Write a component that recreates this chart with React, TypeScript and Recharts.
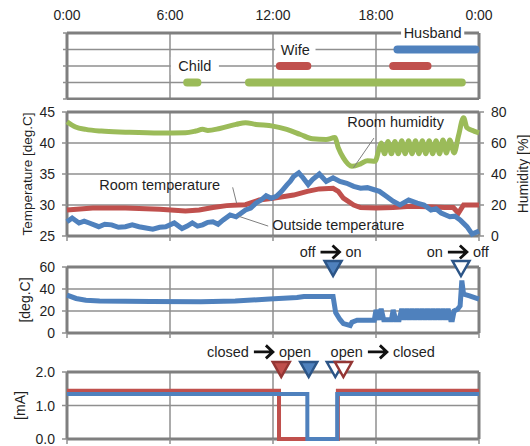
import React from 'react'
import {
  LineChart, Line, XAxis, YAxis, CartesianGrid, ReferenceDot, ReferenceLine, Label,
} from 'recharts'

const FONT = '"Liberation Sans", Arial, sans-serif'
const INK = '#1f1f1f'
const GRID = '#8f8f8f'
const FRAME = '#7f7f7f'
const BLUE = '#4f81bd'
const BLUE_DARK = '#2c5587'
const RED = '#c0504d'
const RED_DARK = '#943634'
const GREEN = '#9bbb59'

const HOURS = [0, 6, 12, 18, 24]
const HOUR_LABELS = ['0:00', '6:00', '12:00', '18:00', '0:00']

// who is at home: [from, to] in hours, one row per person
const childStays = [[7.0, 7.6], [10.6, 23.0]]
const wifeStays = [[12.4, 14.0], [19.0, 21.0]]
const husbandStays = [[19.25, 23.8]]

// [hour, %]
const roomHumidity = [
  [0, 73.7], [0.5, 70.3], [1.1, 68.8], [2.0, 67.7], [3.4, 67.0], [5.4, 66.4], [6.9, 66.6],
  [7.5, 67.7], [7.9, 68.8], [8.2, 68.1], [8.9, 69.4], [9.85, 72], [10.4, 73.1], [11.0, 72],
  [12.0, 70.9], [12.8, 68.8], [13.6, 65.5], [14.3, 62.7], [15.1, 62.3], [15.6, 63.5],
  [15.8, 57], [16.1, 50.4], [16.6, 45], [17.1, 46.5], [17.5, 48.6], [17.95, 48.2],
  [18.15, 55], [18.3, 60], [18.5, 53], [18.7, 61], [18.9, 53], [19.1, 61], [19.3, 53],
  [19.5, 61.5], [19.7, 53], [19.9, 61.5], [20.1, 53], [20.3, 61.5], [20.5, 53], [20.7, 61.5],
  [20.9, 53], [21.1, 61.5], [21.3, 53], [21.5, 61.5], [21.7, 53], [21.9, 62], [22.1, 53.5],
  [22.3, 62], [22.55, 53.6], [22.8, 64.4], [23.1, 76.3], [23.3, 69.8], [23.7, 67.7], [24, 66.6],
]

// [hour, deg.C]
const roomTemp = [
  [0, 29.2], [1.5, 29.5], [3.4, 29.5], [5.4, 29.3], [6.9, 29.05], [7.7, 29.2], [8.5, 29.6],
  [9.3, 29.9], [10.0, 30.0], [10.4, 30.05], [11.2, 30.8], [12.0, 31.1], [13.2, 31.6],
  [14.0, 32.2], [14.7, 32.6], [15.5, 32.7], [15.8, 32.2], [16.1, 31.1], [16.7, 30.0],
  [17.1, 29.6], [18.0, 29.5], [19.0, 29.6], [20.0, 29.8], [21.0, 29.7], [22.0, 29.6],
  [22.5, 29.6], [22.8, 28.7], [23.1, 30.0], [24, 30.0],
]

const outsideTemp = [
  [0, 27.3], [0.3, 27.9], [0.7, 27.1], [1.0, 27.4], [1.3, 27.1], [1.85, 26.5], [2.2, 26.9],
  [2.6, 26.8], [3.0, 26.4], [3.4, 26.5], [3.8, 26.8], [4.2, 26.5], [4.6, 26.3], [5.0, 26.1],
  [5.4, 26.4], [5.75, 26.5], [6.25, 27.1], [6.7, 26.2], [7.0, 26.6], [7.3, 27.1], [7.6, 26.6],
  [7.9, 26.8], [8.2, 27.2], [8.5, 27.3], [8.8, 26.9], [9.1, 27.6], [9.5, 28.4], [9.85, 28.1],
  [10.1, 28.6], [10.4, 29.2], [10.7, 29.5], [11.0, 30.3], [11.3, 30.8], [11.6, 31.5],
  [11.9, 31.1], [12.2, 31.4], [12.5, 32.2], [12.8, 33.2], [13.0, 33.8], [13.2, 34.6],
  [13.5, 35.2], [13.75, 34.4], [14.05, 33.3], [14.3, 34.1], [14.7, 35.0], [15.1, 33.8],
  [15.5, 34.4], [15.9, 33.8], [16.3, 33.5], [16.7, 33.0], [17.1, 32.7], [17.5, 32.8],
  [17.85, 32.5], [18.2, 32.2], [18.6, 31.4], [19.0, 30.6], [19.4, 30.0], [19.9, 30.8],
  [20.4, 30.3], [20.8, 30.0], [21.2, 29.2], [21.5, 29.4], [21.8, 28.7], [22.3, 28.1],
  [22.6, 28.2], [22.9, 27.6], [23.3, 26.5], [23.6, 25.3], [24, 25.8],
]

// air conditioner outlet, [hour, deg.C]
const outletTemp = [
  [0, 34.5], [0.53, 31.4], [1.1, 29.8], [1.9, 29.2], [4.9, 28.6], [7.8, 28.3], [9.8, 29.2],
  [11.8, 30.8], [13.4, 32.3], [13.8, 33.2], [15.5, 33.2], [15.65, 18.5], [15.9, 12.3],
  [16.1, 8.6], [16.5, 6.8], [16.6, 9.8], [16.9, 11.7], [17.9, 11.7], [18.0, 21], [18.15, 12],
  [18.3, 22], [18.45, 12], [18.9, 12], [19.0, 21], [19.15, 12], [19.35, 12], [19.5, 22],
  [19.65, 12], [19.8, 22], [19.95, 12], [20.1, 22], [20.25, 12], [20.4, 22], [20.55, 12],
  [20.7, 22], [20.85, 12], [21.0, 22], [21.15, 12], [21.3, 22], [21.45, 12], [21.6, 22],
  [21.75, 12], [21.9, 22], [22.05, 12], [22.2, 22], [22.35, 12], [22.45, 12], [22.55, 20],
  [22.75, 21.5], [22.9, 24.6], [23.0, 47.7], [23.1, 35.4], [23.45, 33.8], [24, 30.8],
]

// door sensors, [hour, mA]
const doorRed = [[0, 1.44], [12.35, 1.44], [12.35, 0], [15.78, 0], [15.78, 1.44], [24, 1.44]]
const doorBlue = [[0, 1.34], [14.0, 1.34], [14.0, 0], [15.74, 0], [15.74, 1.34], [24, 1.34]]

const rows = (pts: number[][]) => pts.map(([h, v]) => ({ h, v }))

const tickFont = { fontSize: 14, fill: INK, fontFamily: FONT }
const noTick = () => <g />
const edgeRows = ({ offset }: any) => [offset.top, offset.top + offset.height]
const edgeCols = ({ offset }: any) => [offset.left, offset.left + offset.width]

// left-axis value label
const leftTick = (fmt: (v: number) => string) => (p: any) => (
  <text x={p.x} y={p.y} textAnchor="end" dominantBaseline="central" fontSize={14}
    fontFamily={FONT} fill={INK}>{fmt(p.payload.value)}</text>
)

const vTitle = (text: string, dx: number, size = 14) => (props: any) => {
  const vb = props.viewBox
  const cx = vb.x + dx
  const cy = vb.y + vb.height / 2
  return (
    <text x={cx} y={cy} transform={`rotate(-90 ${cx} ${cy})`} textAnchor="middle"
      dominantBaseline="central" fontSize={size} fontFamily={FONT} fill={INK}>{text}</text>
  )
}

const note = (text: string, boxed = false) => (p: any) => {
  const w = text.length * 7.6 + 10
  return (
    <g>
      {boxed && <rect x={p.cx - w / 2} y={p.cy - 9} width={w} height={18} fill="#fff" />}
      <text x={p.cx} y={p.cy} textAnchor="middle" dominantBaseline="central"
        fontSize={14.5} fontFamily={FONT} fill={INK}>{text}</text>
    </g>
  )
}

// "from → to", anchored on the arrow's centre
const arrowNote = (from: string, to: string) => (p: any) => {
  const { cx, cy } = p
  return (
    <g fontSize={14.5} fontFamily={FONT} fill={INK}>
      <text x={cx - 15} y={cy} textAnchor="end" dominantBaseline="central">{from}</text>
      <path d={`M${cx - 10},${cy} H${cx + 8} M${cx + 2},${cy - 6.5} L${cx + 9},${cy} L${cx + 2},${cy + 6.5}`}
        stroke="#111" strokeWidth={2.8} fill="none" />
      <text x={cx + 15} y={cy} textAnchor="start" dominantBaseline="central">{to}</text>
    </g>
  )
}

const tri = (fill: string, stroke: string, top: number, tip: number) => (p: any) => (
  <polygon
    points={`${p.cx - 8.5},${p.cy + top} ${p.cx + 8.5},${p.cy + top} ${p.cx},${p.cy + tip}`}
    fill={fill} stroke={stroke} strokeWidth={2.5} />
)

const bottomAxis = (
  <XAxis dataKey="h" type="number" domain={[0, 24]} ticks={HOURS} interval={0} tick={noTick}
    tickSize={5} tickLine={{ stroke: GRID, strokeWidth: 1.5 }} axisLine={false} height={7} />
)

function Occupancy() {
  const people = [
    { stays: childStays, row: 1, color: GREEN },
    { stays: wifeStays, row: 2, color: RED },
    { stays: husbandStays, row: 3, color: BLUE },
  ]
  return (
    <LineChart width={530} height={100} margin={{ top: 0, right: 51, bottom: 1, left: 0 }}>
      <CartesianGrid stroke={GRID} strokeWidth={1.5} />
      <CartesianGrid stroke={FRAME} strokeWidth={3}
        horizontalCoordinatesGenerator={edgeRows} verticalCoordinatesGenerator={edgeCols} />
      <XAxis dataKey="h" type="number" orientation="top" domain={[0, 24]} ticks={HOURS}
        interval={0} tickFormatter={(_, i) => HOUR_LABELS[i]} tick={tickFont}
        tickLine={false} axisLine={false} tickSize={6} tickMargin={7} height={33} />
      <YAxis type="number" domain={[0, 4]} ticks={[0, 1, 2, 3, 4]} interval={0} tick={noTick}
        tickSize={4} tickLine={{ stroke: GRID, strokeWidth: 1.5 }} axisLine={false} width={67} />
      <ReferenceDot x={21.3} y={4} ifOverflow="visible" shape={note('Husband', true)} />
      <ReferenceDot x={13.3} y={3} ifOverflow="visible" shape={note('Wife', true)} />
      <ReferenceDot x={7.45} y={2} ifOverflow="visible" shape={note('Child', true)} />
      {people.flatMap(({ stays, row, color }) =>
        stays.map(([a, b], i) => (
          <Line key={`${row}-${i}`} data={[{ h: a, v: row }, { h: b, v: row }]} dataKey="v"
            stroke={color} strokeWidth={8} strokeLinecap="round" dot={false}
            activeDot={false} isAnimationActive={false} />
        )))}
    </LineChart>
  )
}

function Climate() {
  return (
    <LineChart width={530} height={150} margin={{ top: 12, right: 0, bottom: 7, left: 0 }}>
      <CartesianGrid yAxisId="t" stroke={GRID} strokeWidth={1.5} />
      <CartesianGrid yAxisId="t" stroke={FRAME} strokeWidth={3}
        horizontalCoordinatesGenerator={edgeRows} verticalCoordinatesGenerator={edgeCols} />
      {bottomAxis}
      <YAxis yAxisId="t" type="number" domain={[25, 45]} ticks={[25, 30, 35, 40, 45]}
        interval={0} tick={tickFont} tickSize={5} tickMargin={7}
        tickLine={{ stroke: GRID, strokeWidth: 1.5 }} axisLine={false} width={67}>
        <Label content={vTitle('Temperature [deg.C]', 27, 13.5)} />
      </YAxis>
      <YAxis yAxisId="h" orientation="right" type="number" domain={[0, 80]}
        ticks={[0, 20, 40, 60, 80]} interval={0} tick={tickFont} tickSize={5} tickMargin={7}
        tickLine={{ stroke: GRID, strokeWidth: 1.5 }} axisLine={false} width={51}>
        <Label content={vTitle('Humidity [%]', 44)} />
      </YAxis>
      <Line yAxisId="h" type="monotone" data={rows(roomHumidity)} dataKey="v" stroke={GREEN}
        strokeWidth={5} dot={false} activeDot={false} isAnimationActive={false} />
      <Line yAxisId="t" data={rows(roomTemp)} dataKey="v" stroke={RED} strokeWidth={5}
        dot={false} activeDot={false} isAnimationActive={false} />
      <Line yAxisId="t" data={rows(outsideTemp)} dataKey="v" stroke={BLUE} strokeWidth={5}
        dot={false} activeDot={false} isAnimationActive={false} />
      <ReferenceLine yAxisId="t" ifOverflow="visible" stroke="#7f7f7f" strokeWidth={1}
        segment={[{ x: 9.65, y: 32.85 }, { x: 9.88, y: 30.3 }]} />
      <ReferenceLine yAxisId="t" ifOverflow="visible" stroke="#7f7f7f" strokeWidth={1}
        segment={[{ x: 9.98, y: 28.2 }, { x: 11.72, y: 26.6 }]} />
      <ReferenceLine yAxisId="h" ifOverflow="visible" stroke="#7f7f7f" strokeWidth={1}
        segment={[{ x: 17.88, y: 63.2 }, { x: 16.68, y: 43.9 }]} />
      <ReferenceDot yAxisId="t" x={5.4} y={33.3} ifOverflow="visible" shape={note('Room temperature')} />
      <ReferenceDot yAxisId="t" x={15.8} y={26.8} ifOverflow="visible" shape={note('Outside temperature')} />
      <ReferenceDot yAxisId="h" x={19.14} y={73.5} ifOverflow="visible" shape={note('Room humidity')} />
    </LineChart>
  )
}

function Outlet() {
  return (
    <LineChart width={530} height={120} margin={{ top: 27, right: 51, bottom: 20, left: 0 }}>
      <CartesianGrid stroke={GRID} strokeWidth={1.5} />
      <CartesianGrid stroke={FRAME} strokeWidth={3}
        horizontalCoordinatesGenerator={edgeRows} verticalCoordinatesGenerator={edgeCols} />
      {bottomAxis}
      <YAxis type="number" domain={[0, 60]} ticks={[0, 20, 40, 60]} interval={0}
        tick={leftTick((v) => String(v))} tickSize={5} tickMargin={7}
        tickLine={{ stroke: GRID, strokeWidth: 1.5 }} axisLine={false} width={67}>
        <Label content={vTitle('[deg.C]', 25)} />
      </YAxis>
      <Line data={rows(outletTemp)} dataKey="v" stroke={BLUE} strokeWidth={5} dot={false}
        activeDot={false} isAnimationActive={false} />
      <ReferenceDot x={15.35} y={73.6} ifOverflow="visible" shape={arrowNote('off', 'on')} />
      <ReferenceDot x={22.77} y={73.6} ifOverflow="visible" shape={arrowNote('on', 'off')} />
      <ReferenceDot x={15.5} y={60} ifOverflow="visible" shape={tri(BLUE, BLUE_DARK, -6, 9)} />
      <ReferenceDot x={22.95} y={60} ifOverflow="visible" shape={tri('#fff', BLUE_DARK, -6, 9)} />
    </LineChart>
  )
}

function Doors() {
  return (
    <LineChart width={530} height={106} margin={{ top: 32, right: 51, bottom: 0, left: 0 }}>
      <CartesianGrid stroke={GRID} strokeWidth={1.5} />
      <CartesianGrid stroke={FRAME} strokeWidth={3}
        horizontalCoordinatesGenerator={edgeRows} verticalCoordinatesGenerator={edgeCols} />
      {bottomAxis}
      <YAxis type="number" domain={[0, 2]} ticks={[0, 1, 2]} interval={0}
        tick={leftTick((v) => v.toFixed(1))} tickSize={5} tickMargin={7}
        tickLine={{ stroke: GRID, strokeWidth: 1.5 }} axisLine={false} width={67}>
        <Label content={vTitle('[mA]', 20)} />
      </YAxis>
      <Line data={rows(doorRed)} dataKey="v" stroke={RED} strokeWidth={4} dot={false}
        activeDot={false} isAnimationActive={false} />
      <Line data={rows(doorBlue)} dataKey="v" stroke={BLUE} strokeWidth={4} dot={false}
        activeDot={false} isAnimationActive={false} />
      <ReferenceDot x={11.47} y={2.6} ifOverflow="visible" shape={arrowNote('closed', 'open')} />
      <ReferenceDot x={18.11} y={2.6} ifOverflow="visible" shape={arrowNote('open', 'closed')} />
      <ReferenceDot x={12.48} y={2} ifOverflow="visible" shape={tri(RED, RED_DARK, -10, 5)} />
      <ReferenceDot x={14.08} y={2} ifOverflow="visible" shape={tri(BLUE, BLUE_DARK, -10, 5)} />
      <ReferenceDot x={15.63} y={2} ifOverflow="visible" shape={tri('#fff', BLUE_DARK, -10, 5)} />
      <ReferenceDot x={16.1} y={2} ifOverflow="visible" shape={tri('#fff', RED_DARK, -10, 5)} />
    </LineChart>
  )
}

export default function App() {
  return (
    <div style={{ position: 'absolute', left: 0, top: 0, width: 530, height: 446, background: '#fff' }}>
      <div style={{ position: 'absolute', left: 0, top: 0 }}><Occupancy /></div>
      <div style={{ position: 'absolute', left: 0, top: 100 }}><Climate /></div>
      <div style={{ position: 'absolute', left: 0, top: 340 }}><Doors /></div>
      <div style={{ position: 'absolute', left: 0, top: 240 }}><Outlet /></div>
    </div>
  )
}
